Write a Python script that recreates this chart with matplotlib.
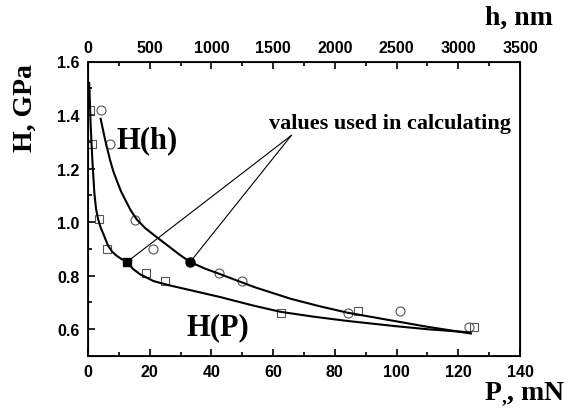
import matplotlib
matplotlib.use("Agg")
import matplotlib.pyplot as plt
from matplotlib.ticker import MultipleLocator

plt.rcParams['mathtext.fontset'] = 'custom'
plt.rcParams['mathtext.rm'] = 'Liberation Serif:bold'
plt.rcParams['mathtext.it'] = 'Liberation Serif:bold'
plt.rcParams['mathtext.bf'] = 'Liberation Serif:bold'

# Data (x in mN)
circ_P = [4.2, 7.1, 15.3, 21.1, 42.5, 50.0, 84.2, 101.1, 123.5]
circ_H = [1.417, 1.29, 1.007, 0.90, 0.81, 0.78, 0.659, 0.668, 0.609]
sq_P = [0.7, 1.3, 3.6, 6.2, 18.8, 25.0, 62.6, 87.6, 125.1]
sq_H = [1.417, 1.29, 1.01, 0.90, 0.81, 0.78, 0.659, 0.668, 0.609]

curveP_x = [0.4, 0.87, 1.4, 2.05, 2.6, 3.3, 4.1, 5.0, 6.5, 7.8, 9.3, 10.9, 12.6,
            14.6, 16.9, 21.2, 26.0, 32.0, 42.9, 53.7, 62.4, 73.0, 84.0, 99.2,
            110.0, 123.9]
curveP_y = [1.52, 1.36, 1.234, 1.11, 1.05, 1.01, 0.98, 0.955, 0.912, 0.89, 0.874,
            0.862, 0.851, 0.825, 0.805, 0.78, 0.765, 0.749, 0.72, 0.688, 0.665,
            0.647, 0.631, 0.612, 0.60, 0.588]
curveh_x = [4.1, 5.5, 7.1, 8.2, 9.5, 10.7, 12.0, 13.8, 15.8, 18.5, 21.8, 26.0,
            29.5, 33.1, 38.0, 43.0, 54.0, 65.6, 75.0, 84.0, 99.2, 110.0, 124.1]
curveh_y = [1.386, 1.31, 1.234, 1.19, 1.15, 1.115, 1.085, 1.045, 1.01, 0.978,
            0.948, 0.911, 0.88, 0.851, 0.826, 0.805, 0.757, 0.714, 0.686, 0.662,
            0.631, 0.609, 0.584]

used_P = [12.6, 33.1]
used_H = [0.851, 0.851]
used_marker = ['s', 'o']
used_size = [5.5, 6.5]

x_ticks = [0, 20, 40, 60, 80, 100, 120, 140]
y_ticks = [0.6, 0.8, 1.0, 1.2, 1.4, 1.6]
top_ticks = [0, 500, 1000, 1500, 2000, 2500, 3000, 3500]

serif = 'Liberation Serif'
sans = 'Liberation Sans'

fig = plt.figure(figsize=(5.69, 4.10), dpi=100)
ax = fig.add_axes([88/569, 1-357/410, (520-88)/569, (357-62.5)/410])

ax.plot(curveP_x, curveP_y, color='black', lw=1.5, zorder=3)
ax.plot(curveh_x, curveh_y, color='black', lw=1.5, zorder=3)
ax.plot(circ_P, circ_H, linestyle='none', marker='o', ms=6.5, mfc='none',
        mec='#555555', mew=0.8, zorder=2)
ax.plot(sq_P, sq_H, linestyle='none', marker='s', ms=5.8, mfc='none',
        mec='#555555', mew=0.8, zorder=2)

# annotation
apex = (65.9, 1.324)
for px, py, m, s in zip(used_P, used_H, used_marker, used_size):
    ax.plot([px, apex[0]], [py, apex[1]], color='black', lw=0.8, zorder=3)
    ax.plot([px], [py], marker=m, ms=s, color='black', zorder=4)

ax.text(97.8, 1.372, 'values used in calculating', family=serif, weight='bold',
        fontsize=16, ha='center', va='center')
ax.text(19.2, 1.309, 'H(h)', family=serif, weight='bold', fontsize=22,
        ha='center', va='center')
ax.text(42.2, 0.611, 'H(P)', family=serif, weight='bold', fontsize=22,
        ha='center', va='center')

ax.set_xlim(0, 140)
ax.set_ylim(0.5, 1.6)
ax.set_xticks(x_ticks)
ax.set_xticklabels([str(v) for v in x_ticks])
ax.set_yticks(y_ticks)
ax.set_yticklabels(['%.1f' % v for v in y_ticks])
ax.xaxis.set_minor_locator(MultipleLocator(10))
ax.yaxis.set_minor_locator(MultipleLocator(0.1))
ax.tick_params(which='both', direction='in', top=False, right=False, width=1.2)
ax.tick_params(which='major', length=5, pad=6)
ax.tick_params(which='minor', length=3)
for lab in ax.get_xticklabels() + ax.get_yticklabels():
    lab.set_family(sans)
    lab.set_weight('bold')
    lab.set_fontsize(11.5)
for s in ax.spines.values():
    s.set_linewidth(1.3)

ax2 = ax.twiny()
ax2.set_xlim(0, 3500)
ax2.set_xticks(top_ticks)
ax2.set_xticklabels([str(v) for v in top_ticks])
ax2.xaxis.set_minor_locator(MultipleLocator(250))
ax2.tick_params(which='both', direction='in', width=1.2)
ax2.tick_params(which='major', length=5, pad=5)
ax2.tick_params(which='minor', length=3)
for lab in ax2.get_xticklabels():
    lab.set_family(sans)
    lab.set_weight('bold')
    lab.set_fontsize(11.5)

fig.text(25/569, 1-108/410, 'H, GPa', family=serif, weight='bold', fontsize=20,
         rotation=90, ha='center', va='center')
fig.text(519/569, 1-18/410, 'h, nm', family=serif, weight='bold', fontsize=20,
         ha='center', va='center')
fig.text(525/569, 1-394/410, r'P$_{,}$, mN', family=serif, weight='bold',
         fontsize=20, ha='center', va='center')

fig.savefig('out.png', dpi=100)
